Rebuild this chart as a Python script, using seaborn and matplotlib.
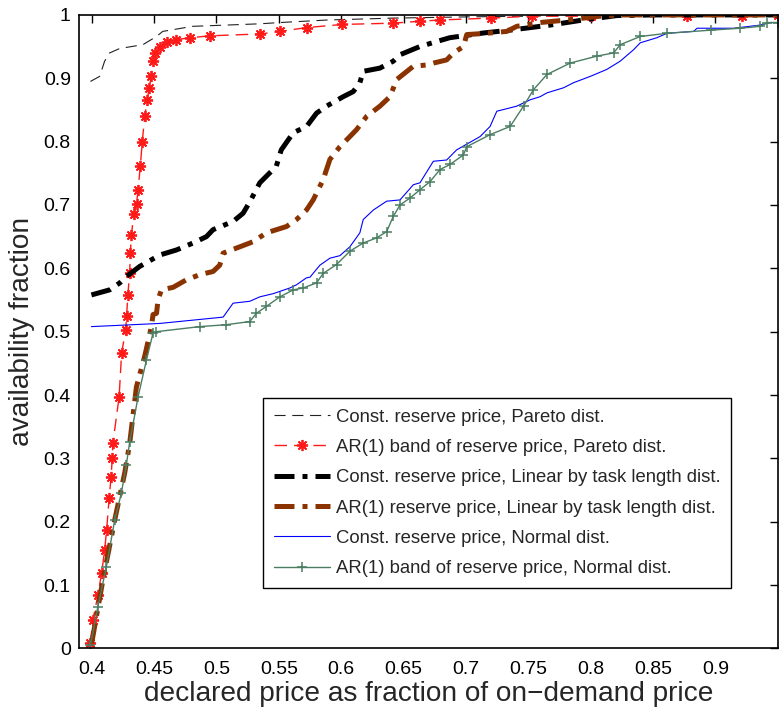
import numpy as np
import pandas as pd
import matplotlib
matplotlib.use("Agg")
import matplotlib.pyplot as plt
import seaborn as sns

# ---------------- data ----------------
labels = [
    "Const. reserve price, Pareto dist.",
    "AR(1) band of reserve price, Pareto dist.",
    "Const. reserve price, Linear by task length dist.",
    "AR(1) reserve price, Linear by task length dist.",
    "Const. reserve price, Normal dist.",
    "AR(1) band of reserve price, Normal dist.",
]

const_pareto_x = [0.399, 0.4064, 0.4104, 0.4144, 0.4225, 0.441, 0.452, 0.457, 0.481, 0.535,
                  0.551, 0.589, 0.642, 0.703, 0.75, 0.80, 0.85, 0.95]
const_pareto_y = [0.895, 0.903, 0.927, 0.940, 0.947, 0.953, 0.966, 0.974, 0.982, 0.986,
                  0.988, 0.992, 0.995, 0.997, 0.998, 1.0, 1.0, 1.0]

ar_pareto_x = [0.399, 0.401, 0.405, 0.408, 0.4104, 0.412, 0.414, 0.4156, 0.4165, 0.417,
               0.422, 0.424, 0.4273, 0.428, 0.429, 0.4305, 0.431, 0.4319, 0.4337, 0.436,
               0.4372, 0.439, 0.4406, 0.4425, 0.4447, 0.446, 0.4479, 0.4492, 0.4506, 0.4545,
               0.46, 0.468, 0.4787, 0.4947, 0.535, 0.551, 0.5723, 0.601, 0.6417, 0.663,
               0.679, 0.72, 0.753, 0.80, 0.877, 0.921, 0.95]
ar_pareto_y = [0.008, 0.045, 0.084, 0.119, 0.155, 0.187, 0.237, 0.271, 0.30, 0.324,
               0.397, 0.466, 0.503, 0.524, 0.558, 0.593, 0.624, 0.653, 0.685, 0.702,
               0.724, 0.761, 0.80, 0.84, 0.866, 0.885, 0.903, 0.927, 0.94, 0.95,
               0.957, 0.961, 0.964, 0.967, 0.970, 0.974, 0.980, 0.985, 0.987, 0.990,
               0.992, 0.995, 0.998, 0.998, 0.998, 0.999, 1.0]

const_linear_x = [0.3998, 0.4144, 0.4225, 0.4278, 0.4385, 0.4546, 0.468, 0.4813, 0.492, 0.4973,
                  0.5134, 0.5214, 0.5268, 0.5348, 0.548, 0.552, 0.5616, 0.5723, 0.5803, 0.5883,
                  0.6017, 0.6097, 0.615, 0.6177, 0.631, 0.6418, 0.647, 0.663, 0.6766, 0.687,
                  0.714, 0.7355, 0.7676, 0.794, 0.821, 0.85, 0.95]
const_linear_y = [0.558, 0.566, 0.577, 0.587, 0.603, 0.621, 0.629, 0.640, 0.650, 0.661,
                  0.674, 0.687, 0.705, 0.735, 0.761, 0.787, 0.814, 0.824, 0.845, 0.856,
                  0.871, 0.879, 0.893, 0.911, 0.916, 0.927, 0.937, 0.950, 0.958, 0.964,
                  0.9715, 0.976, 0.984, 0.992, 0.999, 1.0, 1.0]

ar_linear_x = [0.4, 0.409, 0.4185, 0.4265, 0.4305, 0.4359, 0.4425, 0.4479, 0.4492, 0.452,
               0.4532, 0.4559, 0.4653, 0.476, 0.4867, 0.4973, 0.5027, 0.5054, 0.5188, 0.5294,
               0.5401, 0.5562, 0.5642, 0.5722, 0.5776, 0.5856, 0.591, 0.599, 0.607, 0.6124,
               0.6205, 0.6311, 0.6392, 0.6445, 0.6579, 0.6686, 0.674, 0.6846, 0.69, 0.698,
               0.7007, 0.7167, 0.7328, 0.7408, 0.7596, 0.781, 0.8077, 0.8237, 0.95]
ar_linear_y = [0.008, 0.108, 0.203, 0.277, 0.324, 0.413, 0.461, 0.508, 0.527, 0.529,
               0.550, 0.566, 0.570, 0.582, 0.590, 0.595, 0.605, 0.624, 0.634, 0.642,
               0.656, 0.666, 0.677, 0.692, 0.708, 0.740, 0.772, 0.792, 0.808, 0.819,
               0.840, 0.856, 0.871, 0.898, 0.919, 0.921, 0.924, 0.929, 0.940, 0.950,
               0.969, 0.971, 0.974, 0.982, 0.988, 0.992, 0.998, 1.0, 1.0]

const_normal_x = [0.3998, 0.4546, 0.5054, 0.5134, 0.5268, 0.5348, 0.5455, 0.5589, 0.5642, 0.5722,
                  0.575, 0.583, 0.591, 0.599, 0.607, 0.615, 0.6177, 0.6258, 0.6365, 0.6472,
                  0.6579, 0.6632, 0.6739, 0.6846, 0.6926, 0.7114, 0.7194, 0.7248, 0.7408, 0.7515,
                  0.7596, 0.765, 0.7783, 0.7863, 0.7997, 0.813, 0.8237, 0.8344, 0.8398, 0.8531,
                  0.8612, 0.8826, 0.8853, 0.9147, 0.936, 0.944, 0.95]
const_normal_y = [0.508, 0.513, 0.523, 0.545, 0.548, 0.555, 0.560, 0.569, 0.574, 0.585,
                  0.586, 0.605, 0.616, 0.620, 0.634, 0.656, 0.677, 0.692, 0.706, 0.708,
                  0.732, 0.735, 0.769, 0.771, 0.787, 0.808, 0.824, 0.848, 0.856, 0.866,
                  0.871, 0.877, 0.885, 0.893, 0.903, 0.914, 0.927, 0.945, 0.956, 0.964,
                  0.971, 0.974, 0.979, 0.979, 0.984, 0.988, 0.988]

ar_normal_x = [0.399, 0.405, 0.4118, 0.4185, 0.4238, 0.4278, 0.4305, 0.4372, 0.4439, 0.4492,
               0.4519, 0.4867, 0.508, 0.5268, 0.5321, 0.5401, 0.5509, 0.5616, 0.5696, 0.5803,
               0.5856, 0.5963, 0.607, 0.6177, 0.6284, 0.6365, 0.6418, 0.6472, 0.6552, 0.6632,
               0.6713, 0.6793, 0.6873, 0.698, 0.7007, 0.7194, 0.7355, 0.7462, 0.7542, 0.765,
               0.7836, 0.805, 0.8184, 0.8237, 0.8398, 0.8612, 0.8965, 0.92, 0.936, 0.9415, 0.95]
ar_normal_y = [0.005, 0.066, 0.129, 0.203, 0.245, 0.290, 0.326, 0.397, 0.455, 0.498,
               0.500, 0.508, 0.511, 0.516, 0.529, 0.540, 0.555, 0.566, 0.569, 0.577,
               0.592, 0.606, 0.627, 0.640, 0.648, 0.658, 0.682, 0.700, 0.711, 0.724,
               0.737, 0.756, 0.764, 0.779, 0.792, 0.811, 0.824, 0.856, 0.882, 0.906,
               0.924, 0.935, 0.940, 0.953, 0.966, 0.971, 0.976, 0.979, 0.982, 0.988, 0.988]

x_ticks = [0.4, 0.45, 0.5, 0.55, 0.6, 0.65, 0.7, 0.75, 0.8, 0.85, 0.9]
x_tick_labels = ["0.4", "0.45", "0.5", "0.55", "0.6", "0.65", "0.7", "0.75", "0.8", "0.85", "0.9"]
y_ticks = [0, 0.1, 0.2, 0.3, 0.4, 0.5, 0.6, 0.7, 0.8, 0.9, 1.0]
y_tick_labels = ["0", "0.1", "0.2", "0.3", "0.4", "0.5", "0.6", "0.7", "0.8", "0.9", "1"]

# ---------------- style ----------------
sns.set_theme(style="white")
plt.rcParams["font.family"] = ["Liberation Sans", "DejaVu Sans"]

fig = plt.figure(figsize=(7.84, 7.11), dpi=100)
ax = fig.add_axes([0.101, 0.088, 0.891, 0.891])

def draw(x, y, label, **kw):
    sns.lineplot(x=x, y=y, ax=ax, sort=False, estimator=None, label=label, **kw)

red = "#ff1a1a"
green = "#4a7d62"
draw(const_pareto_x, const_pareto_y, labels[0], color="#222222", linewidth=0.8,
     linestyle=(0, (10, 6)))
draw(ar_pareto_x, ar_pareto_y, labels[1], color=red, linewidth=1.0,
     linestyle=(0, (9, 5)), marker=(8, 2, 0), markersize=8, markeredgewidth=1.3,
     markeredgecolor=red, markerfacecolor=red)
draw(const_linear_x, const_linear_y, labels[2], color="black", linewidth=3.6,
     linestyle=(0, (4, 1.6, 1, 1.6)))
draw(ar_linear_x, ar_linear_y, labels[3], color="#8b3300", linewidth=3.6,
     linestyle=(0, (4, 1.6, 1, 1.6)))
draw(const_normal_x, const_normal_y, labels[4], color="#0000ff", linewidth=0.8)
draw(ar_normal_x, ar_normal_y, labels[5], color=green, linewidth=1.0,
     marker="+", markersize=7, markeredgewidth=1.1,
     markeredgecolor=green, markerfacecolor=green)

ax.set_xlim(0.39, 0.95)
ax.set_ylim(0, 1)
ax.set_xticks(x_ticks)
ax.set_xticklabels(x_tick_labels)
ax.set_yticks(y_ticks)
ax.set_yticklabels(y_tick_labels)
ax.tick_params(axis="both", direction="in", length=6, width=1, top=True, right=True,
               labelsize=14, colors="black")
ax.tick_params(axis="x", pad=9)
ax.tick_params(axis="y", pad=6)
for s in ax.spines.values():
    s.set_color("black")
    s.set_linewidth(1.2)

ax.set_xlabel("declared price as fraction of on\u2212demand price", fontsize=20.2, labelpad=2)
ax.set_ylabel("availability fraction", fontsize=20.2, labelpad=6)

leg = ax.legend(loc="upper left", bbox_to_anchor=(0.2635, 0.396), borderaxespad=0,
                fontsize=13.3, handlelength=3.0, handletextpad=0.32, labelspacing=0.72,
                borderpad=0.6, fancybox=False, framealpha=1, edgecolor="black")
leg.get_frame().set_linewidth(1.0)

fig.savefig("out.png", dpi=100)
